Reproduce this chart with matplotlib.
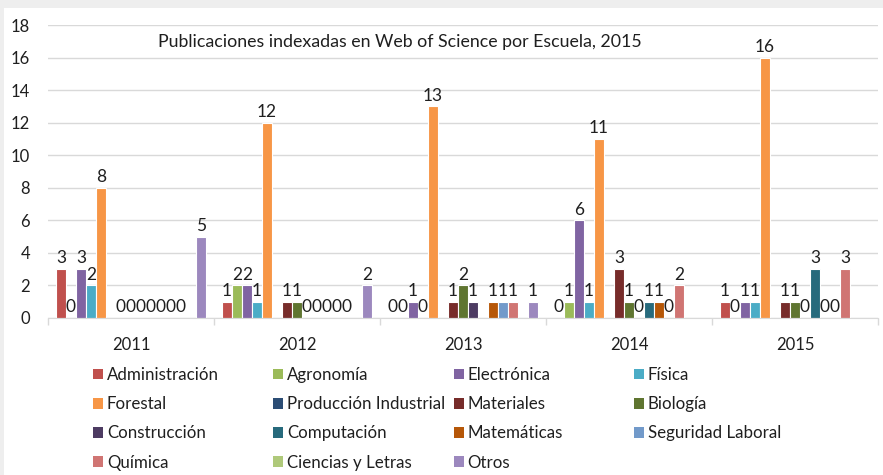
import numpy as np
import matplotlib.pyplot as plt
from matplotlib.patches import Patch, Rectangle

plt.rcParams["font.family"] = ["Lato", "DejaVu Sans"]

nan = np.nan

years = ["2011", "2012", "2013", "2014", "2015"]
escuelas = ["Administración", "Agronomía", "Electrónica", "Física", "Forestal",
            "Producción Industrial", "Materiales", "Biología", "Construcción",
            "Computación", "Matemáticas", "Seguridad Laboral", "Química",
            "Ciencias y Letras", "Otros"]

# publications per school and year (nan = no value shown)
administracion = [3, 1, 0, 0, 1]
agronomia = [0, 2, 0, 1, 0]
electronica = [3, 2, 1, 6, 1]
fisica = [2, 1, 0, 1, 1]
forestal = [8, 12, 13, 11, 16]
produccion_industrial = [nan, nan, nan, nan, nan]
materiales = [0, 1, 1, 3, 1]
biologia = [0, 1, 2, 1, 1]
construccion = [0, 0, 1, 0, 0]
computacion = [0, 0, nan, 1, 3]
matematicas = [0, 0, 1, 1, 0]
seguridad_laboral = [0, 0, 1, 0, 0]
quimica = [0, 0, 1, 2, 3]
ciencias_letras = [nan, nan, nan, nan, nan]
otros = [5, 2, 1, nan, nan]

series = [administracion, agronomia, electronica, fisica, forestal,
          produccion_industrial, materiales, biologia, construccion,
          computacion, matematicas, seguridad_laboral, quimica,
          ciencias_letras, otros]

colors = ["#C0504D", "#9BBB59", "#8064A2", "#4BACC6", "#F79646",
          "#2C4D75", "#772C2A", "#5F7530", "#4D3B62", "#276A7C",
          "#B65708", "#729ACA", "#D07573", "#AFC97A", "#9C88BE"]

text_color = "#1f1f1f"
grid_color = "#d9d9d9"

fig = plt.figure(figsize=(8.83, 4.75), dpi=100, facecolor="#eeeeee")
fig.add_artist(Rectangle((4 / 883, 0), 1, 1 - 8 / 475, transform=fig.transFigure,
                         facecolor="white", edgecolor="none", zorder=-10))
ax = fig.add_axes([48 / 883, 1 - 318 / 475, 830 / 883, 293 / 475])
ax.set_facecolor("white")

x = np.arange(len(years))
n = len(series)
w = 1 / 16.6
for k, (name, vals, col) in enumerate(zip(escuelas, series, colors)):
    vals = np.array(vals, dtype=float)
    pos = x + (k - (n - 1) / 2) * w
    ax.bar(pos, vals, width=w, color=col, edgecolor="white", linewidth=0.8, label=name)
    for xi, v in zip(pos, vals):
        if not np.isnan(v):
            ax.annotate(f"{v:g}", (xi, v), xytext=(0, 2), textcoords="offset points",
                        ha="center", va="bottom", fontsize=12.5, color=text_color)

ax.set_xlim(-0.5, len(years) - 0.5)
ax.set_ylim(0, 18)
ax.set_yticks(np.arange(0, 19, 2))
ax.set_xticks(x, years)
ax.set_xticks(np.arange(-0.5, len(years), 1), minor=True)
ax.tick_params(axis="y", length=0, pad=13, labelsize=12, labelcolor=text_color)
ax.tick_params(axis="x", which="major", length=0, pad=14, labelsize=12, labelcolor=text_color)
ax.tick_params(axis="x", which="minor", length=5, width=1, color=grid_color)
ax.grid(axis="y", color=grid_color, linewidth=1)
ax.set_axisbelow(True)
for side in ["left", "top", "right"]:
    ax.spines[side].set_visible(False)
ax.spines["bottom"].set_color(grid_color)

fig.text(400 / 883, 1 - 42 / 475, "Publicaciones indexadas en Web of Science por Escuela, 2015",
         ha="center", va="center", fontsize=12.8, color=text_color)

# legend laid out row by row in 4 equal columns
handles = [Patch(facecolor=c, edgecolor="none") for c in colors]
ncols = 4
for c in range(ncols):
    idx = list(range(c, n, ncols))
    fig.legend([handles[i] for i in idx], [escuelas[i] for i in idx],
               loc="upper left", bbox_to_anchor=((93 + 180.3 * c) / 883, 1 - 367 / 475),
               frameon=False, fontsize=12.2, handlelength=0.6, handleheight=0.6,
               handletextpad=0.22, labelspacing=0.78, borderpad=0, borderaxespad=0,
               labelcolor=text_color)

fig.savefig("out.png", dpi=100, facecolor=fig.get_facecolor())
